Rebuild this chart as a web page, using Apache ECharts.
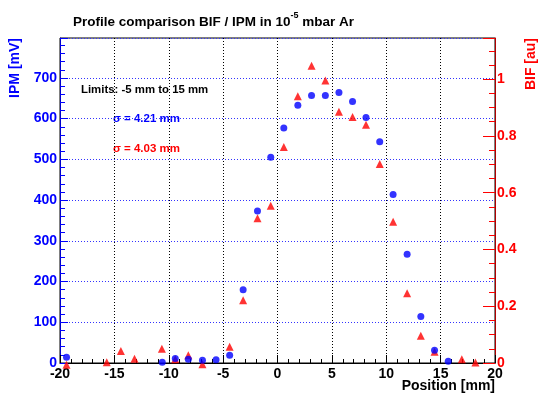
<!DOCTYPE html>
<html>
<head>
<meta charset="utf-8">
<script src="https://cdn.jsdelivr.net/npm/echarts@6/dist/echarts.min.js"></script>
<style>html,body{margin:0;padding:0;background:#fff}#c{width:541px;height:400px}</style>
</head>
<body>
<div id="c"></div>
<script>
var ipmX = [-19.4, -10.6, -9.4, -8.2, -6.9, -5.65, -4.4, -3.16, -1.84, -0.62, 0.58, 1.87, 3.13, 4.4, 5.65, 6.9, 8.14, 9.4, 10.63, 11.92, 13.18, 14.44, 15.7];
var ipmY = [14, 2, 11, 9, 7, 8, 19, 180, 373, 505, 577, 633, 657, 657, 664, 642, 603, 543, 414, 267, 114, 31, 4];
var bifX = [-19.4, -15.7, -14.4, -13.15, -10.63, -9.4, -8.2, -6.9, -4.4, -3.16, -1.84, -0.62, 0.58, 1.87, 3.13, 4.4, 5.65, 6.9, 8.14, 9.4, 10.63, 11.92, 13.18, 14.44, 16.95, 18.2];
var bifY = [-0.006, 0.003, 0.042, 0.015, 0.05, 0.013, 0.027, -0.004, 0.057, 0.221, 0.51, 0.554, 0.761, 0.940, 1.047, 0.995, 0.885, 0.867, 0.839, 0.701, 0.498, 0.246, 0.096, 0.040, 0.013, 0.002];
var xTicks = [-20, -15, -10, -5, 0, 5, 10, 15, 20];
var ipmTicks = [0, 100, 200, 300, 400, 500, 600, 700];
var bifTicks = [0, 0.2, 0.4, 0.6, 0.8, 1];

var FONT = 'Liberation Sans';
function pairs(xs, ys) { return xs.map(function (x, i) { return [x, ys[i]]; }); }

var chart = echarts.init(document.getElementById('c'), null, {renderer: 'canvas'});
chart.setOption({
  animation: false,
  backgroundColor: '#fff',
  grid: {left: 60, right: 46, top: 38, bottom: 37, containLabel: false, outerBoundsMode: 'none',
    show: true, borderColor: '#000', borderWidth: 1, backgroundColor: 'transparent'},
  title: {
    text: '{a|Profile comparison BIF / IPM in 10}{s|-5}{a| mbar Ar}',
    left: 68, top: 6,
    textStyle: {rich: {
      a: {fontFamily: FONT, fontWeight: 'bold', fontSize: 13.5, color: '#000', verticalAlign: 'bottom', lineHeight: 18},
      s: {fontFamily: FONT, fontWeight: 'bold', fontSize: 9, color: '#000', verticalAlign: 'top', lineHeight: 18, padding: [0, 0, 8, 0]}
    }}
  },
  xAxis: {
    type: 'value', min: xTicks[0], max: xTicks[xTicks.length - 1], interval: 5,
    axisLine: {show: true, onZero: false, lineStyle: {color: '#000', width: 1}},
    axisTick: {show: true, inside: true, length: 8, lineStyle: {color: '#000'}},
    minorTick: {show: true, splitNumber: 5, length: 4, lineStyle: {color: '#000'}},
    axisLabel: {margin: 4, fontFamily: FONT, fontWeight: 'bold', fontSize: 14, color: '#000',
      formatter: function (v) { return xTicks.indexOf(v) >= 0 ? String(v) : ''; }},
    splitLine: {show: true, lineStyle: {color: '#000', type: [1, 2], width: 1}}
  },
  yAxis: [{
    type: 'value', min: 0, max: 798, interval: 100, position: 'left',
    axisLine: {show: true, onZero: false, lineStyle: {color: '#0000cc', width: 1}},
    axisTick: {show: true, inside: true, length: 8, lineStyle: {color: '#0000ff'}},
    minorTick: {show: true, splitNumber: 5, length: 5, lineStyle: {color: '#0000ff'}},
    axisLabel: {margin: 3, showMaxLabel: false, fontFamily: FONT, fontWeight: 'bold', fontSize: 14, color: '#0000ff',
      formatter: function (v) { return ipmTicks.indexOf(v) >= 0 ? String(v) : ''; }},
    splitLine: {show: true, lineStyle: {color: '#3333ff', type: [1, 2], width: 1}}
  }, {
    type: 'value', min: 0, max: 1.145, interval: 0.2, position: 'right',
    axisLine: {show: true, onZero: false, lineStyle: {color: '#b00000', width: 1}},
    axisTick: {show: true, inside: true, length: 12, lineStyle: {color: '#ff0000'}},
    minorTick: {show: true, splitNumber: 4, length: 6, lineStyle: {color: '#ff0000'}},
    axisLabel: {margin: 2, showMaxLabel: false, fontFamily: FONT, fontWeight: 'bold', fontSize: 14, color: '#ff0000',
      formatter: function (v) {
        for (var i = 0; i < bifTicks.length; i++) if (Math.abs(v - bifTicks[i]) < 1e-6) return String(bifTicks[i]);
        return '';
      }},
    splitLine: {show: false}
  }],
  graphic: [
    {type: 'text', left: 8, top: 38, rotation: Math.PI / 2,
      style: {text: 'IPM [mV]', font: 'bold 14px ' + FONT, fill: '#0000ff'}},
    {type: 'text', left: 524, top: 38, rotation: Math.PI / 2,
      style: {text: 'BIF [au]', font: 'bold 14px ' + FONT, fill: '#ff0000'}},
    {type: 'text', right: 46, top: 379,
      style: {text: 'Position [mm]', font: 'bold 14px ' + FONT, fill: '#000'}},
    {type: 'text', left: 81, top: 84,
      style: {text: 'Limits: -5 mm to 15 mm', font: 'bold 11.4px ' + FONT, fill: '#000'}},
    {type: 'text', left: 113, top: 113,
      style: {text: 'σ = 4.21 mm', font: 'bold 11.5px ' + FONT, fill: '#0000ff'}},
    {type: 'text', left: 113, top: 143,
      style: {text: 'σ = 4.03 mm', font: 'bold 11.5px ' + FONT, fill: '#ff0000'}}
  ],
  series: [{
    name: 'BIF', type: 'scatter', yAxisIndex: 1, clip: false, z: 3,
    symbol: 'triangle', symbolSize: 8,
    itemStyle: {color: '#ff0000'},
    data: pairs(bifX, bifY)
  }, {
    name: 'IPM', type: 'scatter', yAxisIndex: 0, clip: false, z: 4,
    symbol: 'circle', symbolSize: 7,
    itemStyle: {color: '#0000ff'},
    data: pairs(ipmX, ipmY)
  }]
});
</script>
</body>
</html>
